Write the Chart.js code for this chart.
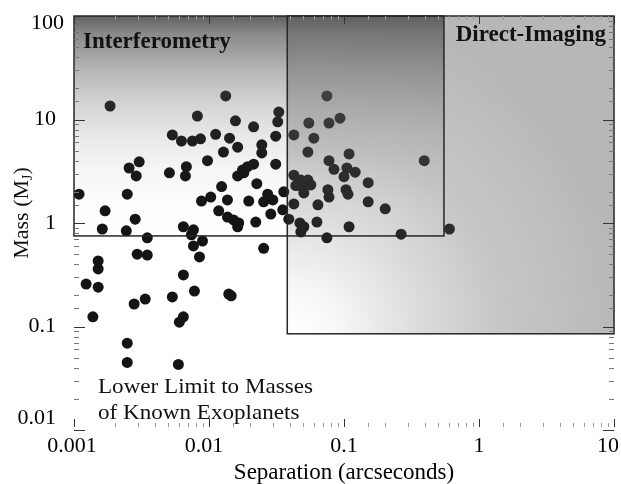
<!DOCTYPE html>
<html>
<head>
<meta charset="utf-8">
<script src="https://cdn.jsdelivr.net/npm/chart.js@4.4.1/dist/chart.umd.min.js"></script>
<style>
  html, body { margin: 0; padding: 0; background: #fff; }
  canvas { display: block; }
</style>
</head>
<body>
<canvas id="c" width="621" height="484"></canvas>
<script>
// separation (arcsec) and mass (M_J) of the known planets
const sepArcsec = [
  0.00185, 0.0133, 0.0082, 0.0329, 0.0323, 0.0157, 0.0214, 0.00535, 0.00625, 0.00754,
  0.00865, 0.0112, 0.0142, 0.0312, 0.0128, 0.0163, 0.0246, 0.0246, 0.00975, 0.00304,
  0.00256, 0.00289, 0.00509, 0.0068, 0.00669, 0.0214, 0.0193, 0.0177, 0.0163, 0.0181,
  0.0312, 0.00109, 0.00248, 0.0124, 0.0226, 0.0358, 0.0272, 0.0088, 0.0103, 0.0137,
  0.0197, 0.0254, 0.0297, 0.0118, 0.0287, 0.0352, 0.0017, 0.00284, 0.0137, 0.0152,
  0.0166, 0.0163, 0.0222, 0.00162, 0.00244, 0.00646, 0.00767, 0.00741, 0.00349, 0.039,
  0.0425, 0.0747, 0.0549, 0.0774, 0.0934, 0.0598, 0.054, 0.109, 0.0774, 0.0843,
  0.105, 0.121, 0.100, 0.151, 0.393, 0.0425, 0.0479, 0.054, 0.0496, 0.044,
  0.0504, 0.076, 0.0774, 0.1035, 0.107, 0.151, 0.0641, 0.0425, 0.202, 0.063,
  0.0471, 0.0504, 0.0479, 0.109, 0.0747, 0.265, 0.604, 0.0463, 0.0568,
  0.00895, 0.00767, 0.0085, 0.0254, 0.00294, 0.00349, 0.00151, 0.00151, 0.00646, 0.00123,
  0.00151, 0.0078, 0.014, 0.0146, 0.00535, 0.00337, 0.00279, 0.00138, 0.00646, 0.00603,
  0.00248, 0.00248, 0.00593
];
const massMj = [
  13.5, 16.9, 10.8, 11.8, 9.5, 9.7, 8.5, 7.1, 6.2, 6.2,
  6.5, 7.2, 6.6, 6.9, 4.85, 5.4, 5.7, 4.75, 4.0, 3.9,
  3.4, 2.85, 3.05, 3.5, 2.85, 3.7, 3.5, 3.25, 2.85, 3.05,
  3.7, 1.9, 1.9, 2.25, 2.4, 2.0, 1.9, 1.63, 1.78, 1.67,
  1.63, 1.6, 1.67, 1.31, 1.22, 1.34, 1.31, 1.09, 1.14, 1.07,
  1.0, 0.92, 1.02, 0.875, 0.84, 0.92, 0.86, 0.77, 0.72, 1.09,
  7.1, 16.9, 9.25, 9.25, 10.3, 6.6, 4.85, 4.65, 4.0, 3.3,
  3.4, 3.1, 2.8, 2.45, 4.0, 2.9, 2.6, 2.6, 2.2, 2.3,
  1.95, 2.1, 1.78, 2.1, 1.9, 1.6, 1.5, 1.53, 1.37, 1.02,
  1.0, 0.92, 0.82, 0.92, 0.72, 0.78, 0.875, 2.33, 2.33,
  0.67, 0.60, 0.47, 0.57, 0.50, 0.49, 0.43, 0.36, 0.315, 0.257,
  0.24, 0.22, 0.206, 0.198, 0.193, 0.184, 0.165, 0.124, 0.124, 0.11,
  0.069, 0.045, 0.043
];

// technique regions: [low, high]
const interfSep  = [0.001, 0.55];
const interfMass = [0.75, 100];
const imagingSep  = [0.038, 10];
const imagingMass = [0.085, 100];

const sepTickLabels  = ['0.001', '0.01', '0.1', '1', '10'];
const massTickLabels = ['0.01', '0.1', '1', '10', '100'];

const SERIF = "'Liberation Serif', 'Times New Roman', serif";

function decadeLabel(v, labels, lowExp) {
  const e = Math.log10(v);
  const r = Math.round(e);
  if (Math.abs(e - r) > 1e-6) return '';
  return labels[r - lowExp] || '';
}

function isDecade(v) {
  const e = Math.log10(v);
  return Math.abs(e - Math.round(e)) < 1e-6;
}

// ── shaded regions, frames, inward ticks and labels ─────────────────
const regions = {
  id: 'regions',
  beforeDraw(chart) {
    const { ctx, chartArea: a } = chart;
    ctx.save();
    ctx.fillStyle = '#fff';
    ctx.fillRect(0, 0, chart.width, chart.height);
    ctx.restore();

    // pull the end labels in from the frame corners
    chart.scales.x.getLabelItems(a).forEach(it => {
      if (!it.label) return;
      const t = it.options.translation;
      if (Math.abs(t[0] - a.left) < 3) t[0] -= 2;
      else if (Math.abs(t[0] - a.right) < 3) t[0] -= 6;
      else if (t[0] < a.left + 150) t[0] -= 5;
    });
    chart.scales.y.getLabelItems(a).forEach(it => {
      if (!it.label) return;
      const t = it.options.translation;
      if (Math.abs(t[1] - a.bottom) < 3) t[1] -= 12;
    });
  },
  afterDatasetsDraw(chart) {
    const { ctx, chartArea: a, scales: { x, y } } = chart;

    const ix0 = x.getPixelForValue(interfSep[0]), ix1 = x.getPixelForValue(interfSep[1]);
    const iy0 = y.getPixelForValue(interfMass[1]), iy1 = y.getPixelForValue(interfMass[0]);
    const dx0 = x.getPixelForValue(imagingSep[0]), dx1 = x.getPixelForValue(imagingSep[1]);
    const dy0 = y.getPixelForValue(imagingMass[1]), dy1 = y.getPixelForValue(imagingMass[0]);

    ctx.save();
    // interferometry: dark at the top, fading out downwards
    const g1 = ctx.createLinearGradient(0, iy0, 0, iy1);
    g1.addColorStop(0.00, 'rgba(96,96,96,1)');
    g1.addColorStop(0.08, 'rgba(96,96,96,0.74)');
    g1.addColorStop(0.25, 'rgba(96,96,96,0.45)');
    g1.addColorStop(0.40, 'rgba(96,96,96,0.27)');
    g1.addColorStop(0.55, 'rgba(96,96,96,0.14)');
    g1.addColorStop(0.70, 'rgba(96,96,96,0.06)');
    g1.addColorStop(0.85, 'rgba(96,96,96,0.015)');
    g1.addColorStop(1.00, 'rgba(96,96,96,0)');
    ctx.fillStyle = g1;
    ctx.fillRect(ix0, iy0, ix1 - ix0, iy1 - iy0);

    // direct imaging: light in the lower-left corner
    const R = 460;
    const g2 = ctx.createRadialGradient(dx0 + 8, dy1, 0, dx0 + 8, dy1, R);
    g2.addColorStop(0, 'rgba(96,96,96,0)');
    g2.addColorStop(40 / R, 'rgba(96,96,96,0.045)');
    g2.addColorStop(120 / R, 'rgba(96,96,96,0.21)');
    g2.addColorStop(200 / R, 'rgba(96,96,96,0.35)');
    g2.addColorStop(330 / R, 'rgba(96,96,96,0.45)');
    g2.addColorStop(1, 'rgba(96,96,96,0.45)');
    ctx.fillStyle = g2;
    ctx.fillRect(dx0, dy0, dx1 - dx0, dy1 - dy0);

    // frames
    ctx.strokeStyle = '#262626';
    ctx.lineWidth = 1.5;
    ctx.strokeRect(ix0, iy0, ix1 - ix0, iy1 - iy0);
    ctx.strokeRect(dx0, dy0, dx1 - dx0, dy1 - dy0);

    // inward tick marks on all four sides
    ctx.lineWidth = 1;
    y.ticks.forEach(t => {
      const py = Math.round(y.getPixelForValue(t.value)) + 0.5;
      const major = isDecade(t.value);
      const len = major ? 11 : 5;
      ctx.strokeStyle = major ? '#333' : '#777';
      ctx.beginPath();
      ctx.moveTo(a.left, py); ctx.lineTo(a.left + len, py);
      ctx.moveTo(a.right, py); ctx.lineTo(a.right - len, py);
      ctx.stroke();
    });
    x.ticks.forEach(t => {
      const px = Math.round(x.getPixelForValue(t.value)) + 0.5;
      const major = isDecade(t.value);
      const len = major ? 8 : 4;
      ctx.strokeStyle = major ? '#333' : '#999';
      ctx.beginPath();
      ctx.moveTo(px, a.bottom - 3); ctx.lineTo(px, a.bottom - 3 - len);
      ctx.moveTo(px, a.top); ctx.lineTo(px, a.top + len);
      ctx.stroke();
    });

    // region names
    ctx.fillStyle = '#111';
    ctx.textBaseline = 'middle';
    ctx.font = 'bold 23px ' + SERIF;
    ctx.textAlign = 'left';
    ctx.fillText('Interferometry', ix0 + 9, 42);
    ctx.textAlign = 'right';
    ctx.fillText('Direct-Imaging', dx1 - 8, 35);

    ctx.font = '22px ' + SERIF;
    ctx.textAlign = 'left';
    [['Lower Limit to Masses', 387], ['of Known Exoplanets', 413]].forEach(([s, ty]) => {
      ctx.save();
      ctx.translate(98, ty);
      ctx.scale(1.05, 1);
      ctx.fillText(s, 0, 0);
      ctx.restore();
    });
    ctx.restore();
  },
  afterDraw(chart) {
    const { ctx, chartArea: a } = chart;
    ctx.save();
    // top mass label sits just under the frame edge
    ctx.fillStyle = '#000';
    ctx.font = '22px ' + SERIF;
    ctx.textAlign = 'right';
    ctx.textBaseline = 'middle';
    ctx.fillText(massTickLabels[massTickLabels.length - 1], a.left - 10, a.top + 7);

    // y axis title with subscript J
    ctx.translate(22, 213);
    ctx.rotate(-Math.PI / 2);
    ctx.fillStyle = '#111';
    ctx.textAlign = 'left';
    const big = '22px ' + SERIF, small = '14px ' + SERIF;
    ctx.font = big;
    const w1 = ctx.measureText('Mass (M').width;
    const w3 = ctx.measureText(')').width;
    ctx.font = small;
    const w2 = ctx.measureText('J').width;
    let xx = -(w1 + w2 + w3) / 2;
    ctx.font = big;
    ctx.fillText('Mass (M', xx, 0);
    xx += w1;
    ctx.font = small;
    ctx.fillText('J', xx, 6);
    xx += w2;
    ctx.font = big;
    ctx.fillText(')', xx, 0);
    ctx.restore();
  }
};

const points = sepArcsec.map((s, i) => ({ x: s, y: massMj[i] }));
const tickFont = { family: SERIF, size: 22 };

new Chart(document.getElementById('c'), {
  type: 'scatter',
  data: {
    datasets: [{
      data: points,
      pointRadius: 5.5,
      pointHoverRadius: 5.5,
      backgroundColor: '#141414',
      borderWidth: 0
    }]
  },
  options: {
    responsive: false,
    animation: false,
    events: [],
    layout: { padding: { top: 16, right: 7, left: 0, bottom: 0 } },
    plugins: { legend: { display: false }, tooltip: { enabled: false } },
    scales: {
      x: {
        type: 'logarithmic', min: 0.001, max: 10,
        grid: { display: false }, border: { display: false },
        ticks: {
          autoSkip: false, maxRotation: 0, minRotation: 0, padding: -5,
          color: '#000', font: tickFont,
          callback: v => decadeLabel(v, sepTickLabels, -3)
        },
        title: {
          display: true, text: 'Separation (arcseconds)', color: '#000',
          font: { family: SERIF, size: 23, lineHeight: 1 }, padding: { top: 0, bottom: 0 }
        },
        afterFit: s => { s.height = 54; s.paddingLeft = 0; s.paddingRight = 0; }
      },
      y: {
        type: 'logarithmic', min: 0.01, max: 100,
        grid: { display: false }, border: { display: false },
        ticks: {
          autoSkip: false, padding: 10, color: '#000', font: tickFont,
          // the top label is placed by the plugin
          callback: v => (v >= 99 ? '' : decadeLabel(v, massTickLabels, -2))
        },
        afterFit: s => { s.width = 74; s.paddingTop = 0; s.paddingBottom = 0; }
      }
    }
  },
  plugins: [regions]
});
</script>
</body>
</html>
